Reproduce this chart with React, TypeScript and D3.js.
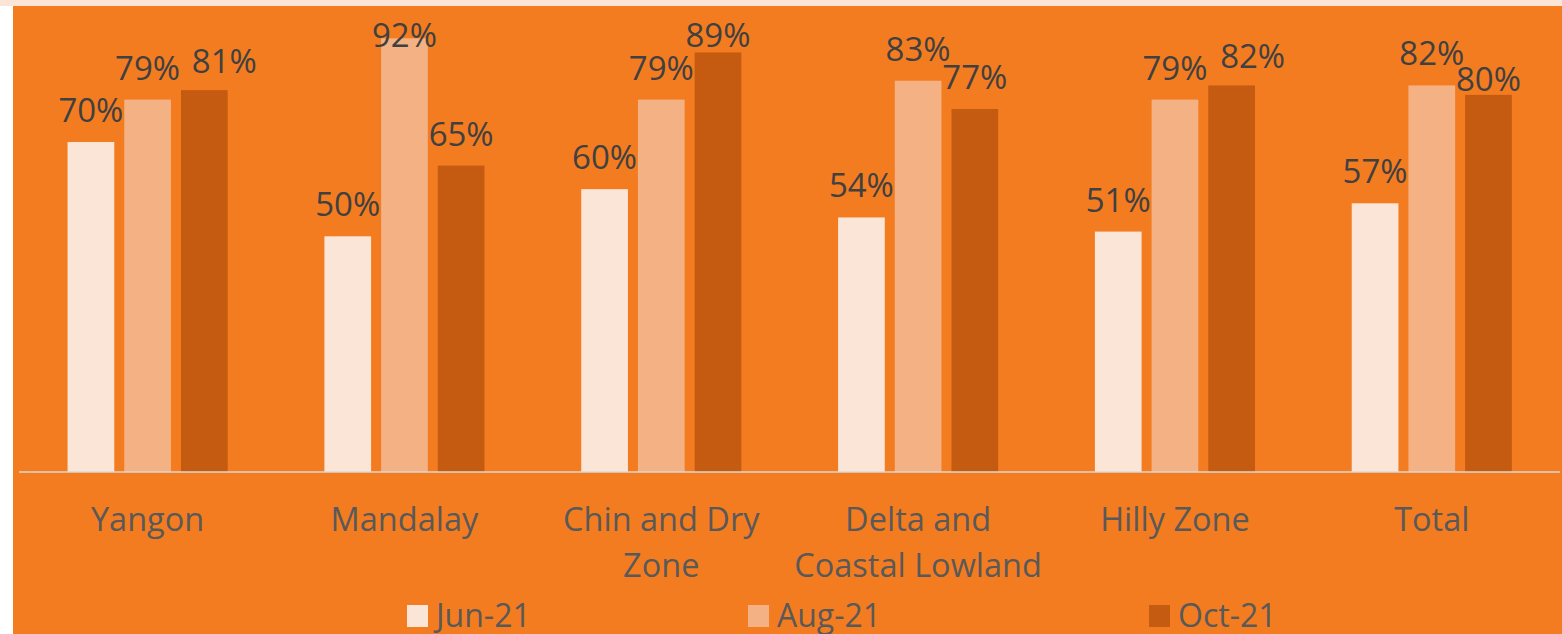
import React from "react";
import * as d3 from "d3";

// Share of respondents by region, three survey rounds
const categories = ["Yangon", "Mandalay", "Chin and Dry Zone", "Delta and Coastal Lowland", "Hilly Zone", "Total"];
const categoryLines = [["Yangon"], ["Mandalay"], ["Chin and Dry", "Zone"], ["Delta and", "Coastal Lowland"], ["Hilly Zone"], ["Total"]];
const seriesNames = ["Jun-21", "Aug-21", "Oct-21"];
const jun21 = [0.70, 0.50, 0.60, 0.54, 0.51, 0.57];
const aug21 = [0.79, 0.92, 0.79, 0.83, 0.79, 0.82];
const oct21 = [0.81, 0.65, 0.89, 0.77, 0.82, 0.80];
const seriesColors = ["#FBE5D6", "#F4B183", "#C55A11"];

const W = 1562;
const H = 634;
const BG = "#F47C20";
const FONT = "'Open Sans', 'Noto Sans', sans-serif";

// Hand-placed label nudges (dx, dy) to keep neighbouring labels apart
const labelNudge: Record<string, [number, number]> = {
  "Yangon|Oct-21": [20, 3],
  "Hilly Zone|Oct-21": [21, 3],
  "Total|Oct-21": [0, 16],
};

export default function App() {
  const values = [jun21, aug21, oct21];
  const baseY = 472;
  const x0 = d3.scaleBand<string>().domain(categories).range([19.2, 1560.2]).paddingInner(0).paddingOuter(0);
  const x1 = d3
    .scaleBand<string>()
    .domain(seriesNames)
    .range([0, x0.bandwidth()])
    .paddingInner(0.1764)
    .paddingOuter(0.853);
  const y = d3.scaleLinear().domain([0, 1]).range([baseY, 0.6]);
  const fmt = d3.format(".0%");

  return (
    <svg
      width={W}
      height={H}
      style={{ position: "absolute", left: 0, top: 0, display: "block" }}
      fontFamily={FONT}
    >
      <rect x={0} y={0} width={W} height={H} fill="#FFFFFF" />
      <rect x={0} y={0} width={W} height={6} fill="#FCE4D6" />
      <rect x={13} y={6} width={W - 13} height={H - 6} fill={BG} />

      {categories.map((c, ci) => (
        <g key={c} transform={`translate(${x0(c)},0)`}>
          {seriesNames.map((s, si) => {
            const v = values[si][ci];
            const bx = x1(s)!;
            const by = y(v);
            return (
              <rect
                key={s}
                x={bx}
                y={by}
                width={x1.bandwidth()}
                height={baseY - by}
                fill={seriesColors[si]}
              />
            );
          })}
        </g>
      ))}

      <line x1={19} x2={1560} y1={baseY} y2={baseY} stroke="#D9D9D9" strokeWidth={1.5} />

      {categories.map((c, ci) => (
        <g key={c + "-lbl"} transform={`translate(${x0(c)},0)`}>
          {seriesNames.map((s, si) => {
            const v = values[si][ci];
            const [dx, dy] = labelNudge[`${c}|${s}`] ?? [0, 0];
            const cx = x1(s)! + x1.bandwidth() / 2 + dx;
            const ly = Math.max(y(v) - 20, 47) + dy;
            return (
              <text
                key={s}
                x={cx}
                y={ly}
                textAnchor="middle"
                fontSize={33}
                fill="#404040"
              >
                {fmt(v)}
              </text>
            );
          })}
        </g>
      ))}

      {categories.map((c, ci) => (
        <text
          key={c + "-cat"}
          x={x0(c)! + x0.bandwidth() / 2}
          y={531}
          textAnchor="middle"
          fontSize={32.5}
          fill="#595959"
        >
          {categoryLines[ci].map((line, li) => (
            <tspan key={li} x={x0(c)! + x0.bandwidth() / 2} dy={li === 0 ? 0 : 45.5}>
              {line}
            </tspan>
          ))}
        </text>
      ))}

      {seriesNames.map((s, si) => {
        const lx = [407, 748, 1149][si];
        return (
          <g key={s + "-leg"}>
            <rect x={lx} y={605} width={21} height={22} fill={seriesColors[si]} />
            <text x={lx + 29} y={627} fontSize={32} fill="#595959">
              {s}
            </text>
          </g>
        );
      })}
    </svg>
  );
}
